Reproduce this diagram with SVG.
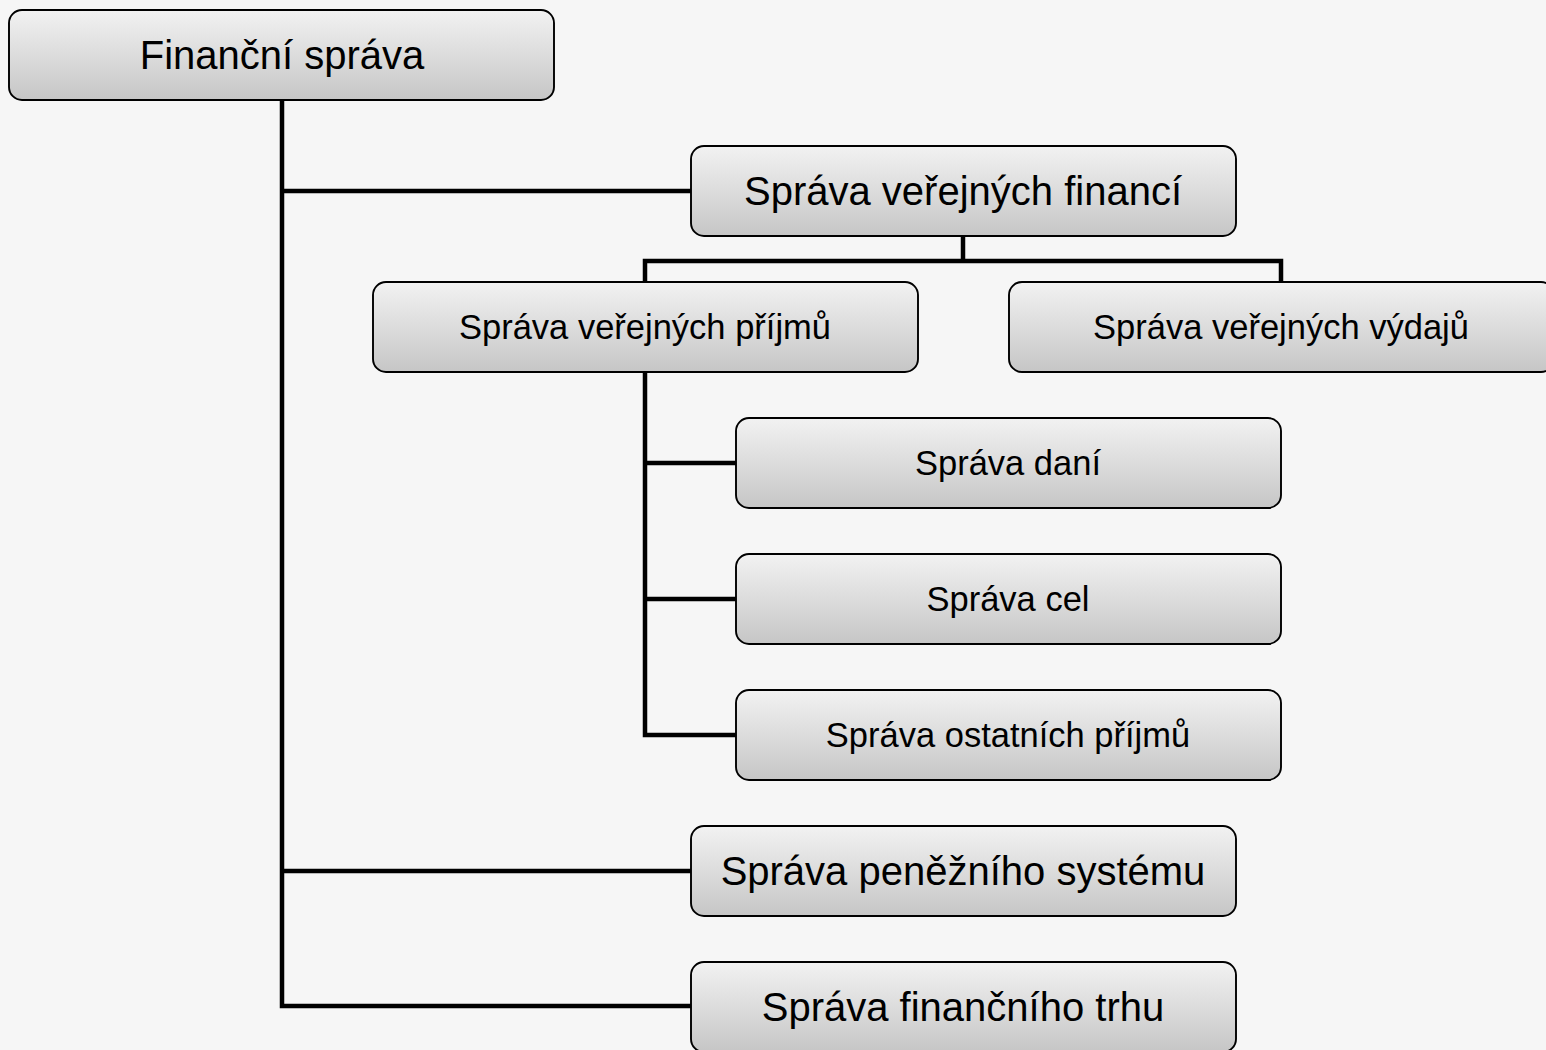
<svg xmlns="http://www.w3.org/2000/svg" width="1546" height="1050" viewBox="0 0 1546 1050">
<defs>
<linearGradient id="g" x1="0" y1="0" x2="0" y2="1">
<stop offset="0" stop-color="#f2f2f2"/>
<stop offset="1" stop-color="#c6c6c6"/>
</linearGradient>
<style>
.box{fill:url(#g);stroke:#000;stroke-width:1.9}
.big{font-family:"Liberation Sans",Arial,sans-serif;font-size:40px;fill:#000;text-anchor:middle}
.sm{font-family:"Liberation Sans",Arial,sans-serif;font-size:34.5px;fill:#000;text-anchor:middle}
.c{fill:none;stroke:#000;stroke-width:4.5}
</style>
</defs>
<rect width="1546" height="1050" fill="#f6f6f6"/>
<g id="connectors">
<path class="c" d="M282,100 V1006 H691"/>
<path class="c" d="M282,191 H691"/>
<path class="c" d="M282,871 H691"/>
<path class="c" d="M963,236 V261"/>
<path class="c" d="M645,282 V261 H1281 V282"/>
<path class="c" d="M645,372 V735 H736"/>
<path class="c" d="M645,463 H736"/>
<path class="c" d="M645,599 H736"/>
</g>
<g id="n-root"><rect class="box" x="9" y="10" width="545" height="90" rx="13"/><text class="big" x="282" y="69">Finanční správa</text></g>
<g id="n-svf"><rect class="box" x="691" y="146" width="545" height="90" rx="13"/><text class="big" x="963" y="205">Správa veřejných financí</text></g>
<g id="n-svp"><rect class="box" x="373" y="282" width="545" height="90" rx="13"/><text class="sm" x="645" y="339">Správa veřejných příjmů</text></g>
<g id="n-svv"><rect class="box" x="1009" y="282" width="545" height="90" rx="13"/><text class="sm" x="1281" y="339">Správa veřejných výdajů</text></g>
<g id="n-sd"><rect class="box" x="736" y="418" width="545" height="90" rx="13"/><text class="sm" x="1008" y="475">Správa daní</text></g>
<g id="n-sc"><rect class="box" x="736" y="554" width="545" height="90" rx="13"/><text class="sm" x="1008" y="611">Správa cel</text></g>
<g id="n-sop"><rect class="box" x="736" y="690" width="545" height="90" rx="13"/><text class="sm" x="1008" y="747">Správa ostatních příjmů</text></g>
<g id="n-sps"><rect class="box" x="691" y="826" width="545" height="90" rx="13"/><text class="big" x="963" y="885">Správa peněžního systému</text></g>
<g id="n-sft"><rect class="box" x="691" y="962" width="545" height="90" rx="13"/><text class="big" x="963" y="1021">Správa finančního trhu</text></g>
</svg>
